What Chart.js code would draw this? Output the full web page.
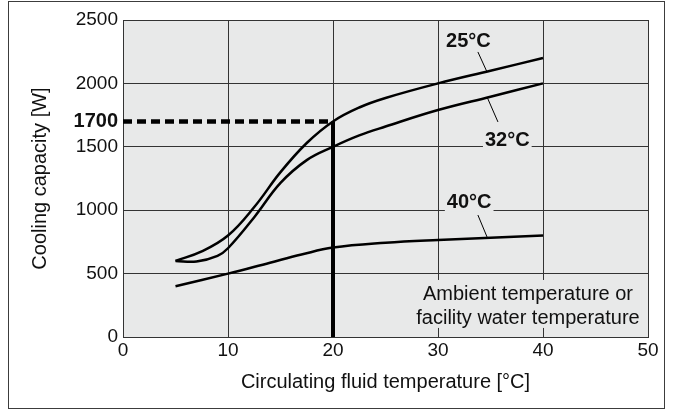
<!DOCTYPE html>
<html>
<head>
<meta charset="utf-8">
<script src="https://cdn.jsdelivr.net/npm/chart.js@4.4.0/dist/chart.umd.min.js"></script>
<style>
  html, body { margin: 0; padding: 0; background: #fff; }
  canvas { display: block; }
</style>
</head>
<body>
<canvas id="capacityChart" width="673" height="410"></canvas>
<script>
"use strict";

// cooling capacity [W] vs circulating fluid temperature [°C]
const temp25X = [5, 7.5, 10, 12.5, 15, 17.5, 20, 22.5, 25, 30, 35, 40];
const temp25Y = [600, 675, 800, 1025, 1300, 1530, 1700, 1810, 1885, 2000, 2100, 2200];
const temp32X = [5, 7, 9, 10, 12.5, 15, 17.5, 20, 22.5, 25, 30, 35, 40];
const temp32Y = [600, 595, 640, 700, 945, 1215, 1395, 1500, 1590, 1660, 1790, 1895, 2000];
const temp40X = [5, 10, 14, 17, 20, 25, 30, 40];
const temp40Y = [400, 500, 586, 650, 705, 743, 765, 800];

// reading example: 20 °C -> 1700 W
const readTemp = 20;
const readCapacity = 1700;

const xTicks = [0, 10, 20, 30, 40, 50];
const yTicks = [0, 500, 1000, 1500, 2000, 2500];

const FONT = "'Liberation Sans', Arial, sans-serif";
const PLOT_BG = "#e8e9e9";
const GRID = "#333";
const INK = "#111";

function toPoints(xs, ys) {
  return xs.map((x, i) => ({ x: x, y: ys[i] }));
}

function curve(xs, ys) {
  return {
    data: toPoints(xs, ys),
    borderColor: "#000",
    borderWidth: 2.5,
    pointRadius: 0,
    tension: 0.4,
    fill: false,
  };
}

const curveLabels = [
  { text: "25°C", x: 32.9, y: 2289, box: false, lead: [[33.8, 2248], [34.67, 2090]] },
  { text: "32°C", x: 36.6, y: 1506, box: true, lead: [[34.67, 1893], [35.71, 1696]] },
  { text: "40°C", x: 32.97, y: 1020, box: true, lead: [[33.8, 962], [34.67, 789]] },
];
const noteLines = ["Ambient temperature or", "facility water temperature"];

const backdrop = {
  id: "backdrop",
  beforeDraw(chart) {
    const { ctx, chartArea: a } = chart;
    ctx.save();
    ctx.fillStyle = "#fff";
    ctx.fillRect(0, 0, chart.width, chart.height);
    ctx.strokeStyle = "#3c3c3c";
    ctx.lineWidth = 1;
    ctx.strokeRect(8.5, 1.5, 656, 407);
    ctx.fillStyle = PLOT_BG;
    ctx.fillRect(a.left, a.top, a.right - a.left, a.bottom - a.top);
    ctx.restore();
  },
};

const annotations = {
  id: "annotations",
  afterDatasetsDraw(chart) {
    const { ctx, scales } = chart;
    const px = (v) => scales.x.getPixelForValue(v);
    const py = (v) => scales.y.getPixelForValue(v);
    ctx.save();
    ctx.font = "bold 20px " + FONT;
    ctx.textAlign = "center";
    ctx.textBaseline = "alphabetic";
    curveLabels.forEach((l) => {
      const cx = px(l.x);
      const by = py(l.y);
      const w = ctx.measureText(l.text).width;
      if (l.box) {
        ctx.fillStyle = PLOT_BG;
        ctx.fillRect(cx - w / 2 - 2, by - 16, w + 4, 20);
      }
      ctx.fillStyle = INK;
      ctx.fillText(l.text, cx, by);
      ctx.strokeStyle = "#000";
      ctx.lineWidth = 1;
      ctx.beginPath();
      ctx.moveTo(px(l.lead[0][0]), py(l.lead[0][1]));
      ctx.lineTo(px(l.lead[1][0]), py(l.lead[1][1]));
      ctx.stroke();
    });

    ctx.font = "20px " + FONT;
    const cx = px(38.57);
    const b1 = py(292);
    const b2 = py(103);
    const w = Math.max(...noteLines.map((t) => ctx.measureText(t).width));
    ctx.fillStyle = PLOT_BG;
    ctx.fillRect(cx - w / 2 - 2, b1 - 20, w + 4, b2 - b1 + 24);
    ctx.fillStyle = INK;
    ctx.fillText(noteLines[0], cx, b1);
    ctx.fillText(noteLines[1], cx, b2);
    ctx.restore();
  },
};

new Chart(document.getElementById("capacityChart"), {
  type: "line",
  data: {
    datasets: [
      curve(temp25X, temp25Y),
      curve(temp32X, temp32Y),
      curve(temp40X, temp40Y),
      {
        data: [{ x: 0, y: readCapacity }, { x: readTemp, y: readCapacity }],
        borderColor: "#000",
        borderWidth: 4.5,
        borderDash: [9, 5],
        pointRadius: 0,
      },
      {
        data: [{ x: readTemp, y: 0 }, { x: readTemp, y: readCapacity }],
        borderColor: "#000",
        borderWidth: 4,
        pointRadius: 0,
      },
    ],
  },
  options: {
    responsive: false,
    animation: false,
    layout: { padding: { left: 0, right: 25, top: 20, bottom: 0 } },
    plugins: { legend: { display: false }, tooltip: { enabled: false } },
    scales: {
      x: {
        type: "linear",
        min: 0,
        max: 50,
        afterBuildTicks: (scale) => {
          scale.ticks = xTicks.map((v) => ({ value: v }));
        },
        afterFit: (scale) => {
          scale.height = 73;
        },
        grid: { color: GRID, lineWidth: 1, drawTicks: false },
        border: { color: GRID, width: 1 },
        ticks: {
          padding: 2,
          color: INK,
          font: { family: FONT, size: 19 },
          autoSkip: false,
          maxRotation: 0,
          callback: (v) => String(v),
        },
        title: {
          display: true,
          text: "Circulating fluid temperature [°C]",
          color: INK,
          font: { family: FONT, size: 20 },
          padding: { top: 0, bottom: 16 },
        },
      },
      y: {
        type: "linear",
        min: 0,
        max: 2500,
        afterBuildTicks: (scale) => {
          scale.ticks = yTicks
            .concat([readCapacity])
            .sort((a, b) => a - b)
            .map((v) => ({ value: v }));
        },
        afterFit: (scale) => {
          scale.width = 123;
        },
        grid: {
          color: (c) => (c.tick && c.tick.value === readCapacity ? "rgba(0,0,0,0)" : GRID),
          lineWidth: 1,
          drawTicks: false,
        },
        border: { color: GRID, width: 1 },
        ticks: {
          padding: 5,
          color: INK,
          autoSkip: false,
          font: (c) =>
            c.tick && c.tick.value === readCapacity
              ? { family: FONT, size: 20, weight: "bold" }
              : { family: FONT, size: 19 },
          callback: (v) => String(v),
        },
        title: {
          display: true,
          text: "Cooling capacity [W]",
          color: INK,
          font: { family: FONT, size: 20 },
          padding: { top: 28, bottom: 0 },
        },
      },
    },
  },
  plugins: [backdrop, annotations],
});
</script>
</body>
</html>
